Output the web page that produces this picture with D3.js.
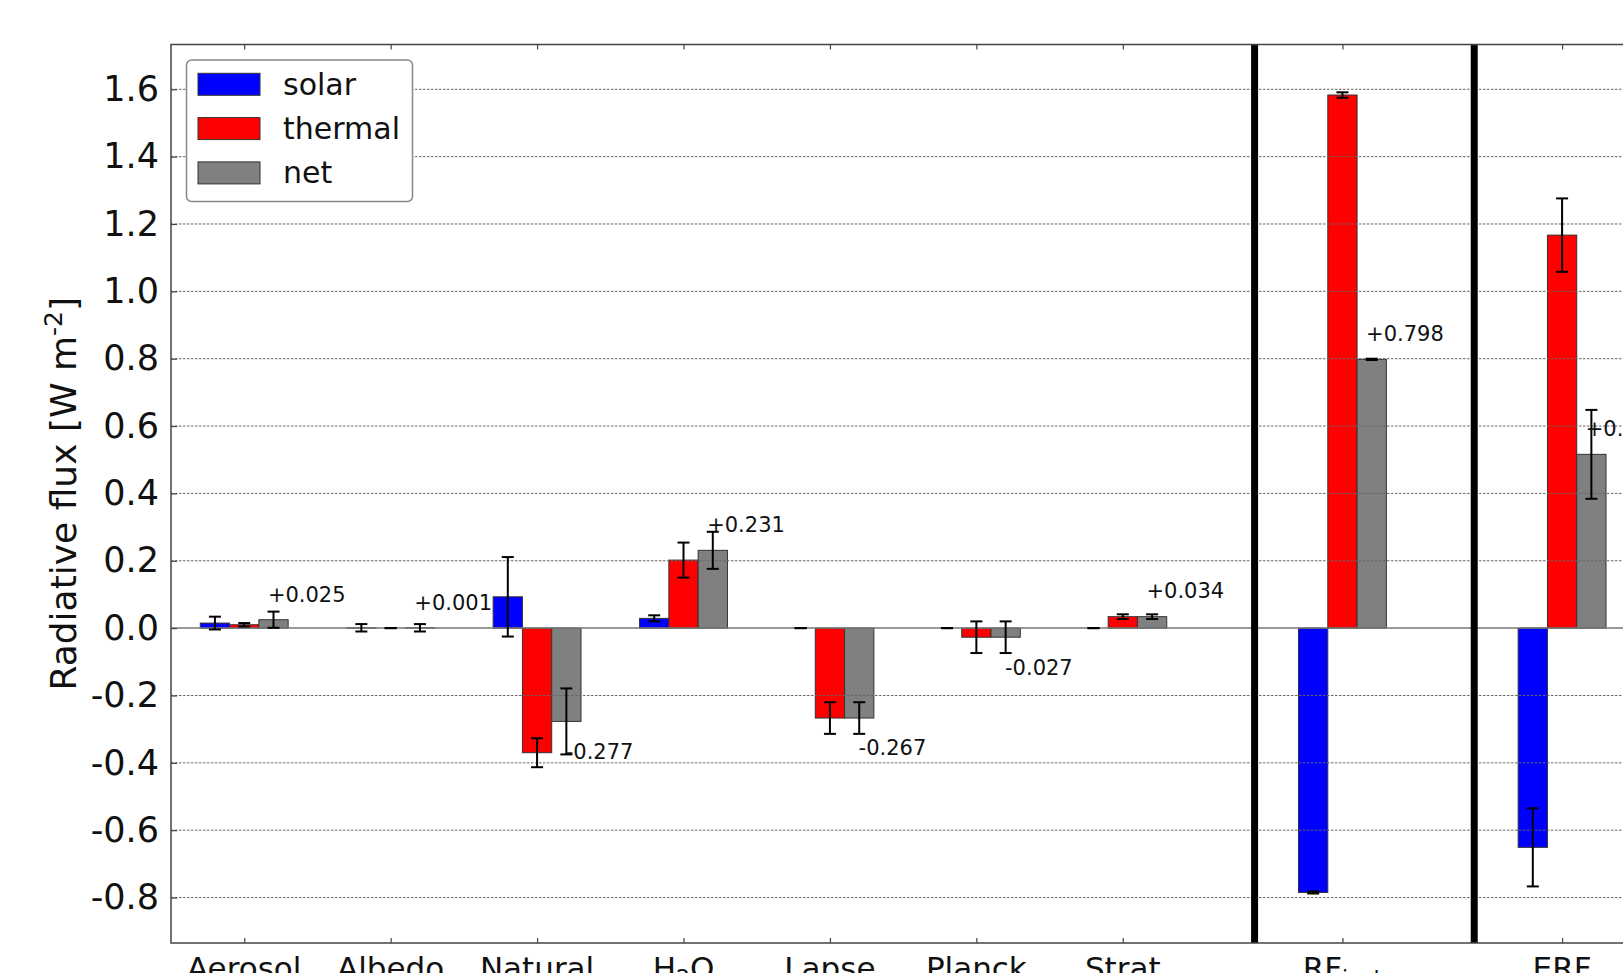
<!DOCTYPE html>
<html>
<head>
<meta charset="utf-8">
<script src="https://cdn.jsdelivr.net/npm/d3@7"></script>
<style>
  html, body { margin: 0; padding: 0; background: #fff; }
  svg { display: block; font-family: "DejaVu Sans", sans-serif; }
</style>
</head>
<body>
<svg id="chart" width="1623" height="973"></svg>
<script>
// Flux decomposition per term; braces mark subscripts in the category names
const categories = ["Aerosol", "Albedo", "Natural", "H{2}O", "Lapse", "Planck", "Strat", "RF{inst}", "ERF"];
const solar      = [0.015, 0.001, 0.093, 0.029, 0.000, 0.000, 0.000, -0.785, -0.651];
const thermal    = [0.010, 0.000, -0.370, 0.202, -0.267, -0.027, 0.034, 1.583, 1.167];
const net        = [0.025, 0.001, -0.277, 0.231, -0.267, -0.027, 0.034, 0.798, 0.516];
const solarErr   = [0.019, 0.011, 0.118, 0.009, 0.000, 0.000, 0.000, 0.003, 0.116];
const thermalErr = [0.005, 0.000, 0.043, 0.052, 0.047, 0.047, 0.007, 0.008, 0.109];
const netErr     = [0.024, 0.011, 0.098, 0.055, 0.047, 0.047, 0.007, 0.002, 0.132];
const seriesNames = ["solar", "thermal", "net"];
const yTicks = [-0.8, -0.6, -0.4, -0.2, 0.0, 0.2, 0.4, 0.6, 0.8, 1.0, 1.2, 1.4, 1.6];

const colors = { solar: "#0000ff", thermal: "#ff0000", net: "#808080" };
const series = [
  { name: "solar",   values: solar,   errs: solarErr,   offset: -0.2 },
  { name: "thermal", values: thermal, errs: thermalErr, offset: 0.0 },
  { name: "net",     values: net,     errs: netErr,     offset: 0.2 }
];

// the two summary columns (RF, ERF) sit further apart than the individual terms
const slot = i => i + (i >= 7 ? (i - 6) * 0.5 : 0);

const svg = d3.select("#chart");
const plotLeft = 171, plotTop = 44.5, plotBottom = 943;
const x = d3.scaleLinear().domain([-0.5, 9.5]).range([plotLeft, plotLeft + 10 * 146.43]);
const y = d3.scaleLinear().domain([-0.935, 1.733]).range([plotBottom, plotTop]);
const barW = x(0.2) - x(0);

const plot = svg.append("g");

// bars
series.forEach(s => {
  plot.append("g").selectAll("rect")
    .data(s.values.map((v, i) => ({ v, i })))
    .join("rect")
    .attr("x", d => x(slot(d.i) + s.offset) - barW / 2)
    .attr("width", barW)
    .attr("y", d => y(Math.max(0, d.v)))
    .attr("height", d => Math.abs(y(d.v) - y(0)))
    .attr("fill", colors[s.name])
    .attr("stroke", "#333")
    .attr("stroke-width", 1);
});

// grid (drawn over the bars)
plot.append("g").selectAll("line")
  .data(yTicks.filter(t => t !== 0))
  .join("line")
  .attr("x1", plotLeft).attr("x2", 1623)
  .attr("y1", d => y(d)).attr("y2", d => y(d))
  .attr("stroke", "#666").attr("stroke-width", 1)
  .attr("stroke-dasharray", "2.5,1.5");

// zero line
plot.append("line")
  .attr("x1", plotLeft).attr("x2", 1623)
  .attr("y1", y(0)).attr("y2", y(0))
  .attr("stroke", "#777").attr("stroke-width", 1.5);

// error bars
series.forEach(s => {
  const g = plot.append("g").attr("stroke", "#000").attr("stroke-width", 2);
  s.values.forEach((v, i) => {
    const cx = x(slot(i) + s.offset), e = s.errs[i];
    g.append("line").attr("x1", cx).attr("x2", cx).attr("y1", y(v - e)).attr("y2", y(v + e));
    [v - e, v + e].forEach(c => g.append("line")
      .attr("x1", cx - 6).attr("x2", cx + 6).attr("y1", y(c)).attr("y2", y(c)));
  });
});

// separators in front of the summary columns
plot.append("g").selectAll("line")
  .data([7, 8])
  .join("line")
  .attr("x1", d => x(slot(d) - 0.6)).attr("x2", d => x(slot(d) - 0.6))
  .attr("y1", plotTop).attr("y2", plotBottom)
  .attr("stroke", "#000").attr("stroke-width", 7);

// net value annotations
const fmt = v => (v >= 0 ? "+" : "-") + Math.abs(v).toFixed(3);
plot.append("g").selectAll("text")
  .data(net.map((v, i) => ({ v, i })))
  .join("text")
  .attr("x", d => x(slot(d.i) + 0.427))
  .attr("y", d => d.v >= 0 ? y(d.v + 0.054) : y(d.v - 0.111))
  .attr("text-anchor", "middle")
  .attr("font-size", 21)
  .attr("fill", "#111")
  .text(d => fmt(d.v));

// frame
svg.append("rect")
  .attr("x", plotLeft).attr("y", plotTop)
  .attr("width", x(9.5) - plotLeft).attr("height", plotBottom - plotTop)
  .attr("fill", "none").attr("stroke", "#444").attr("stroke-width", 1.5);

// y axis
const yAxis = svg.append("g")
  .attr("transform", `translate(${plotLeft},0)`)
  .call(d3.axisLeft(y).tickValues(yTicks).tickSizeInner(-6).tickSizeOuter(0).tickPadding(12)
    .tickFormat(v => (v < 0 ? "-" : "") + Math.abs(v).toFixed(1)));
yAxis.select(".domain").remove();
yAxis.selectAll("line").attr("stroke", "#444").attr("stroke-width", 1.2);
yAxis.selectAll("text").attr("font-size", 35).attr("fill", "#111")
  .attr("font-family", "DejaVu Sans, sans-serif");

// x ticks, bottom and top, pointing inward
const slots = categories.map((c, i) => slot(i));
const xAxisB = svg.append("g").attr("transform", `translate(0,${plotBottom})`)
  .call(d3.axisBottom(x).tickValues(slots).tickSizeInner(-5).tickSizeOuter(0).tickFormat(""));
const xAxisT = svg.append("g").attr("transform", `translate(0,${plotTop})`)
  .call(d3.axisTop(x).tickValues(slots).tickSizeInner(-5).tickSizeOuter(0).tickFormat(""));
[xAxisB, xAxisT].forEach(a => {
  a.select(".domain").remove();
  a.selectAll("line").attr("stroke", "#444").attr("stroke-width", 1.2);
});

// category labels with subscripts
const catLabels = svg.append("g")
  .attr("font-size", 31).attr("fill", "#111").attr("text-anchor", "middle");
categories.forEach((c, i) => {
  const t = catLabels.append("text").attr("x", x(slot(i))).attr("y", plotBottom + 36);
  let shift = 0;
  c.split(/(\{[^}]*\})/).filter(p => p.length).forEach(p => {
    if (p.startsWith("{")) {
      t.append("tspan").attr("font-size", 22).attr("dy", 6 - shift).text(p.slice(1, -1));
      shift = 6;
    } else {
      t.append("tspan").attr("dy", -shift).text(p);
      shift = 0;
    }
  });
});

// y axis title
const yTitle = svg.append("text")
  .attr("transform", `translate(76,${(plotTop + plotBottom) / 2}) rotate(-90)`)
  .attr("text-anchor", "middle").attr("font-size", 36).attr("fill", "#111");
yTitle.append("tspan").text("Radiative flux [W m");
yTitle.append("tspan").attr("font-size", 25).attr("dy", -14).text("-2");
yTitle.append("tspan").attr("dy", 14).text("]");

// legend
const legend = svg.append("g");
legend.append("rect")
  .attr("x", 186.5).attr("y", 60).attr("width", 226).attr("height", 141.5)
  .attr("rx", 5).attr("fill", "#fff").attr("stroke", "#888").attr("stroke-width", 1.5);
seriesNames.forEach((name, k) => {
  const cy = 84.3 + k * 44.3;
  legend.append("rect")
    .attr("x", 198).attr("y", cy - 11).attr("width", 62).attr("height", 22)
    .attr("fill", colors[name]).attr("stroke", "#333").attr("stroke-width", 1);
  legend.append("text")
    .attr("x", 283).attr("y", cy + 10.5)
    .attr("font-size", 30).attr("fill", "#111").text(name);
});
</script>
</body>
</html>
